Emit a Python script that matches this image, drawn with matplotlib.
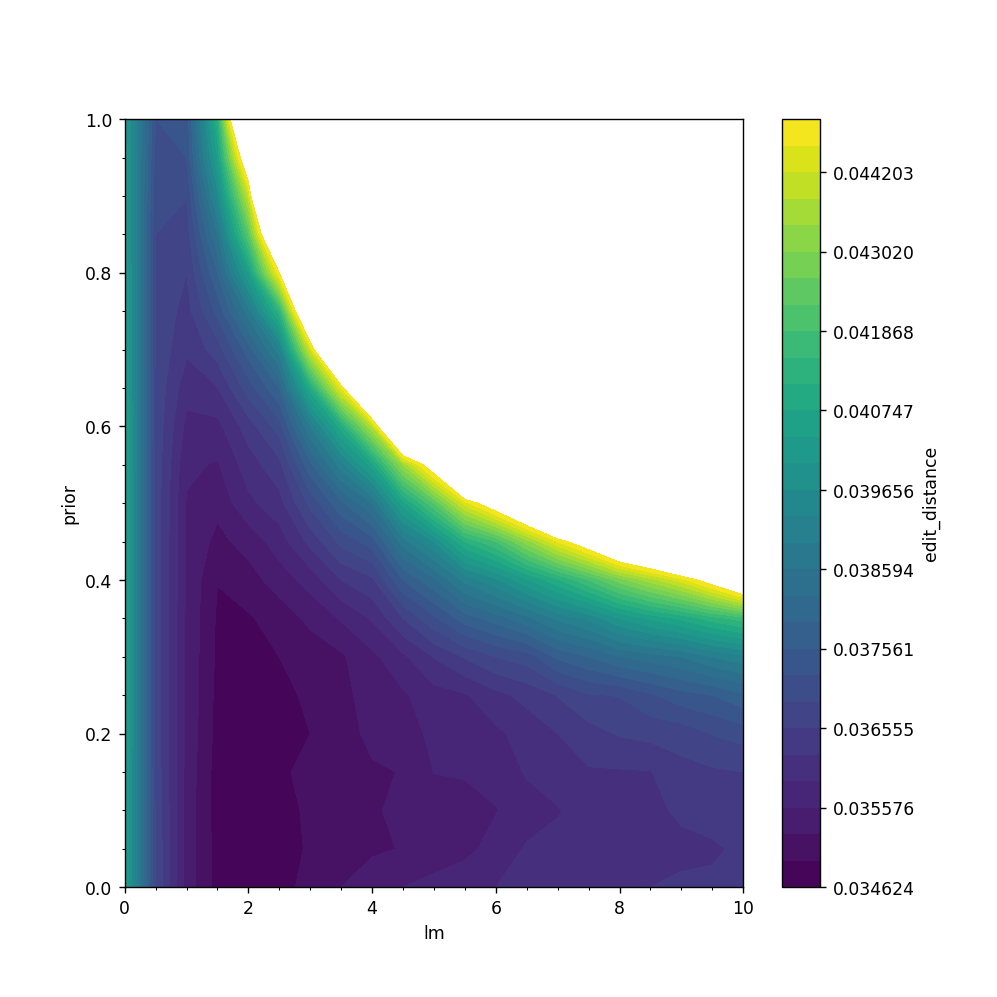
import numpy as np
import matplotlib
matplotlib.use('Agg')
import matplotlib.pyplot as plt

lm = [0, 0.5, 1, 1.5, 2, 2.5, 3, 3.5, 4, 4.5, 5, 5.5, 6, 6.5, 7, 7.5, 8, 8.5, 9, 9.5, 10]
prior = [0, 0.05, 0.1, 0.15, 0.2, 0.25, 0.3, 0.35, 0.4, 0.45, 0.5, 0.55, 0.6, 0.65, 0.7, 0.75, 0.8, 0.85, 0.9, 0.95, 1.0]

# edit distance x 1e-6, one row per prior value. off = above the colour range (white part)
off = 56900
rows = [
    [40380, 36887, 35435, 34828, 34655, 34812, 35056, 35256, 35432, 35576, 35673, 35802, 35899, 35964, 36062, 36095, 36144, 36225, 36258, 36291, 36357],
    [40453, 36854, 35432, 34812, 34624, 34781, 34983, 35081, 35208, 35272, 35400, 35480, 35705, 35932, 35964, 36029, 36127, 36177, 36177, 36177, 36291],
    [40490, 36821, 35448, 34797, 34630, 34812, 35002, 35097, 35224, 35320, 35448, 35512, 35560, 35754, 35883, 35997, 36095, 36177, 36258, 36357, 36390],
    [40527, 36787, 35464, 34797, 34640, 34891, 35014, 35097, 35224, 35266, 35582, 35592, 35689, 35932, 36013, 36193, 36193, 36209, 36456, 36506, 36555],
    [40564, 36754, 35496, 34828, 34640, 34765, 34938, 35148, 35320, 35448, 35641, 35738, 35834, 36029, 36225, 36423, 36588, 36655, 36688, 36904, 37021],
    [40564, 36754, 35512, 34844, 34655, 34828, 35011, 35192, 35352, 35528, 35770, 35867, 36127, 36324, 36572, 36854, 36904, 37172, 37425, 37561, 37834],
    [40564, 36754, 35512, 34875, 34750, 34938, 35065, 35208, 35496, 35834, 36242, 36588, 36887, 37055, 37629, 37902, 38246, 38420, 38594, 38945, 39193],
    [40564, 36754, 35512, 34891, 34906, 35065, 35336, 35608, 35932, 36555, 37155, 37732, 38074, 38490, 39016, 39370, 40016, 40453, 40821, 41304, 41680],
    [40564, 36754, 35528, 34947, 35113, 35416, 35705, 36225, 36489, 37561, 38177, 39051, 39585, 40307, 41043, 41868, 42826, 43608, 44404, 45544, 47082],
    [40564, 36754, 35528, 35161, 35384, 35738, 36324, 36988, 37392, 38770, 39656, 41117, 41868, 43215, 44605, 45834, 47512, 48376, 50614, 51538, 52006],
    [40564, 36754, 35544, 35352, 35818, 36095, 36988, 37834, 38594, 40564, 42248, 44404, 45834, 47512, 50614, 52477, 54412] + [off] * 4,
    [40564, 36771, 35641, 35544, 36062, 36456, 37800, 39122, 40564, 43411, 45834, 50614, 54412] + [off] * 8,
    [40564, 36787, 35802, 35802, 36390, 37055, 38945, 40932, 43805, 50157, 54412] + [off] * 10,
    [40527, 36804, 36029, 36209, 37055, 37902, 40932, 44605, 50157] + [off] * 12,
    [40490, 36821, 36275, 36721, 37732, 39122, 44203, 50614] + [off] * 13,
    [40453, 36837, 36423, 37324, 38770, 41304, 48376] + [off] * 14,
    [40380, 36854, 36555, 37902, 40380, 45010] + [off] * 15,
    [40344, 36887, 36721, 38594, 42248, 48817] + [off] * 15,
    [40307, 36988, 36904, 39478, 44004] + [off] * 16,
    [40271, 37088, 37222, 40380, 46660] + [off] * 16,
    [40198, 37222, 37324, 41117, 50614] + [off] * 16,
]

levels = [0.034624, 0.034938, 0.035256, 0.035576, 0.035899, 0.036225, 0.036555, 0.036887, 0.037222, 0.037561,
          0.037902, 0.038246, 0.038594, 0.038945, 0.039299, 0.039656, 0.040016, 0.040380, 0.040747, 0.041117,
          0.041491, 0.041868, 0.042248, 0.042632, 0.043020, 0.043411, 0.043805, 0.044203, 0.044605, 0.045010]
bar_ticks = [0.034624, 0.035576, 0.036555, 0.037561, 0.038594, 0.039656, 0.040747, 0.041868, 0.043020, 0.044203]

z = np.array(rows) / 1e6

fig, ax = plt.subplots(figsize=(8, 8))
cs = ax.contourf(lm, prior, z, levels=levels, cmap='viridis')
ax.set_xlabel('lm')
ax.set_ylabel('prior')
ax.minorticks_on()

cbar = fig.colorbar(cs, ax=ax, ticks=bar_ticks, format='%.6f')
cbar.set_label('edit_distance')
cbar.ax.minorticks_off()

fig.savefig('out.png', dpi=124.7)
